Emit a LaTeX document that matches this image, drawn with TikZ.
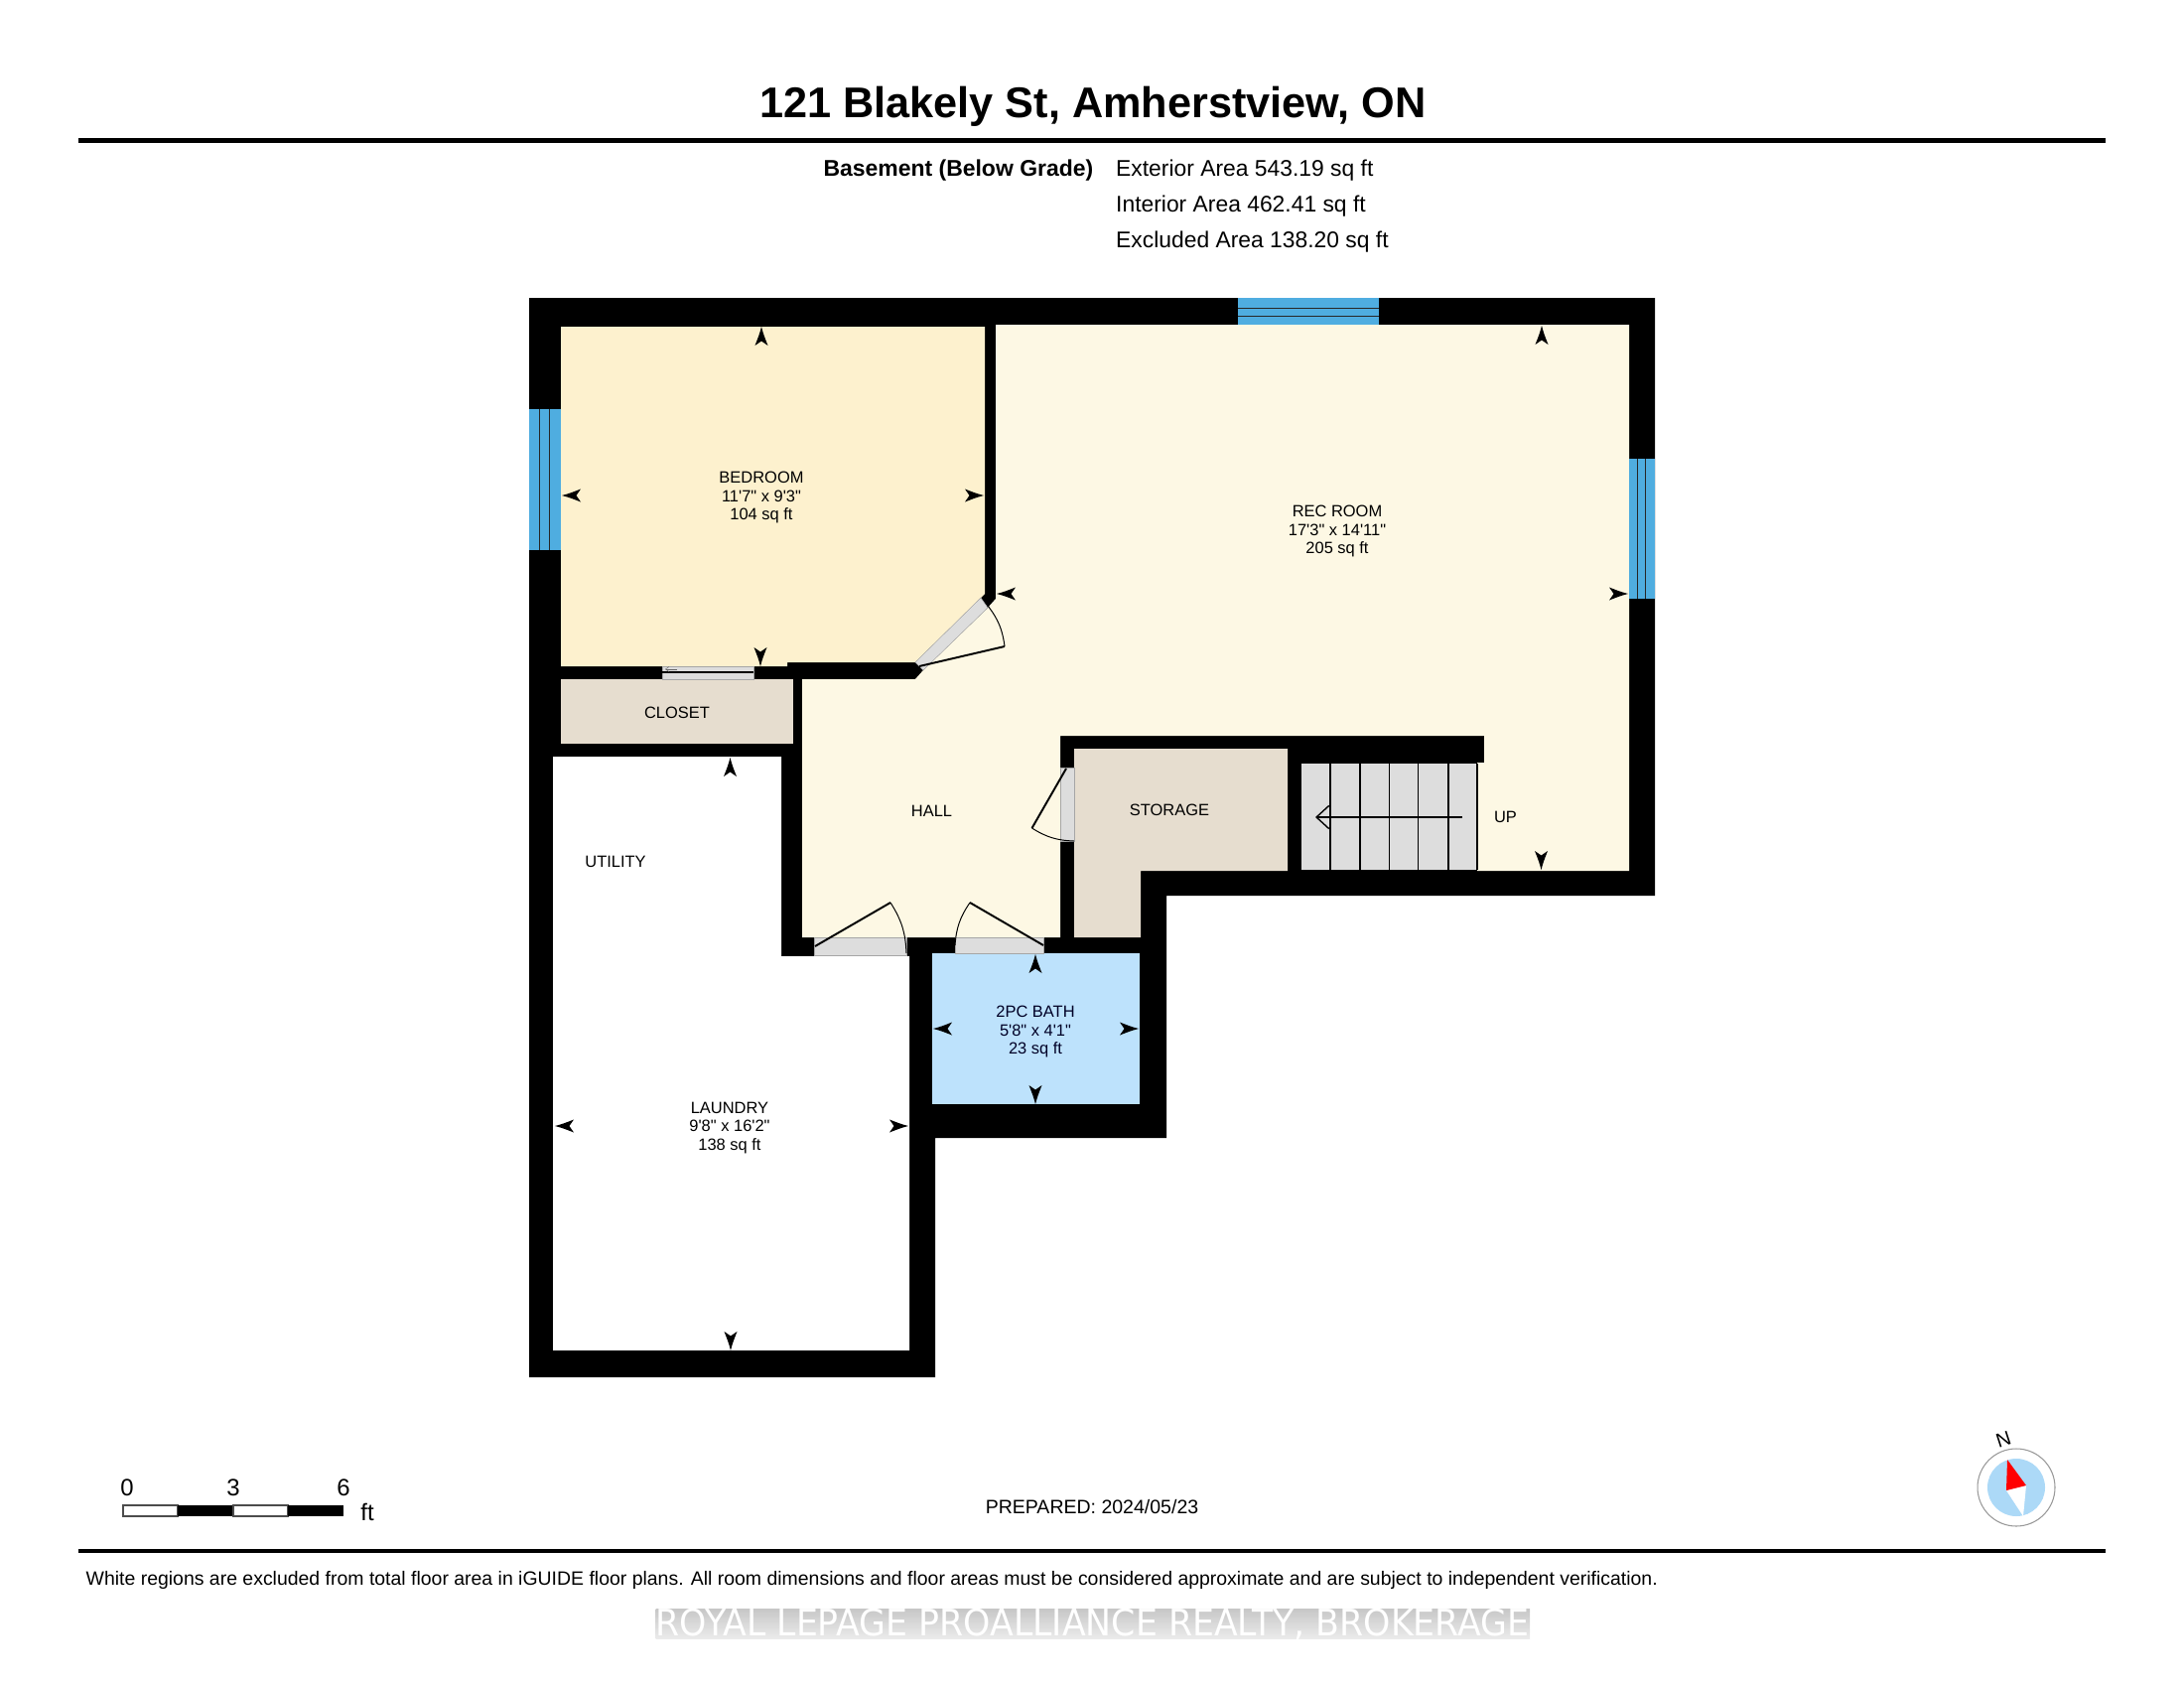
\documentclass[tikz,border=0pt]{standalone}
\usepackage{fontspec}
\setmainfont{Liberation Sans}[Ligatures=TeXOff]
\newfontfamily\markfont{DejaVu Sans}
\usetikzlibrary{arrows.meta,positioning}
\definecolor{wallblack}{HTML}{000000}
\definecolor{bedfill}{HTML}{FDF1CE}
\definecolor{recfill}{HTML}{FDF8E4}
\definecolor{storefill}{HTML}{E6DDCF}
\definecolor{bathfill}{HTML}{BDE2FC}
\definecolor{winfill}{HTML}{4FADE0}
\definecolor{slabfill}{HTML}{DDDDDD}
\definecolor{dialfill}{HTML}{ACD9F7}
\tikzset{
  room/.style={inner sep=0,align=center,font=\fontsize{4.68}{5.2}\selectfont},
  info/.style={inner sep=0,font=\fontsize{6.5}{8}\selectfont},
  slab/.style={fill=slabfill,draw=black!35,line width=0.12pt},
  leaf/.style={line width=0.55pt},
  swing/.style={line width=0.28pt},
  sash/.style={line width=0.25pt,black!85},
}
\newcommand{\Marker}[2]% tip, angle
{\fill[shift={(#1)},rotate=#2] (0,0) .. controls (-8,2.2) .. (-19,6.5) -- (-14.5,0) -- (-19,-6.5) .. controls (-8,-2.2) .. (0,0) -- cycle;
}
\newcommand{\Window}[2]% corner, corner
{\fill[winfill] (#1) rectangle (#2);
}
\begin{document}
\begin{tikzpicture}[x=0.01cm,y=-0.01cm]
  \useasboundingbox (0,0) rectangle (2200,1700);
  % header
  \node[inner sep=0,anchor=base,font=\bfseries\fontsize{12.3}{14}\selectfont] (title) at (1101,119) {121 Blakely St, Amherstview, ON};
  \draw[line width=1.15pt] (79,141.5) -- (2121,141.5);
  \node[info,anchor=base east,font=\bfseries\fontsize{6.53}{8}\selectfont] (level) at (1102,178) {Basement (Below Grade)};
  \node[info,anchor=base west] (exterior) at (1123.5,178) {Exterior Area 543.19 sq ft};
  \node[info,anchor=base west] (interior) at (1123.5,213) {Interior Area 462.41 sq ft};
  \node[info,anchor=base west] (excluded) at (1123.5,249) {Excluded Area 138.20 sq ft};
  % shell, then the rooms on top of it
  \fill[wallblack] (533,300) -- (1667,300) -- (1667,902) -- (1175,902) -- (1175,1146) -- (942,1146) -- (942,1387) -- (533,1387) -- cycle;
  \fill[white] (557,762) -- (787,762) -- (787,963) -- (916,963) -- (916,1360) -- (557,1360) -- cycle;
  \fill[bedfill] (565,329) -- (992,329) -- (992,598) -- (988,602) -- (922,667) -- (793,667) -- (793,671) -- (565,671) -- cycle;
  \fill[recfill] (1003,327) -- (1641,327) -- (1641,877) -- (1488,877) -- (1488,768) -- (1495,768) -- (1495,741) -- (1068,741) -- (1068,944) -- (808,944) -- (808,684) -- (922,684) -- (930,675) -- (995,612) -- (1003,603) -- cycle;
  \fill[storefill] (565,684) rectangle (799,749);
  \fill[storefill] (1082,754) -- (1297,754) -- (1297,877) -- (1149,877) -- (1149,944) -- (1082,944) -- cycle;
  \fill[bathfill] (939,960) rectangle (1148,1112);
  % windows
  \Window{533,412}{565,554}
  \draw[sash] (543,412) -- (543,554) (553,412) -- (553,554);
  \Window{1247,300}{1389,327}
  \draw[sash] (1247,310) -- (1389,310) (1247,318) -- (1389,318);
  \Window{1641,462}{1667,603}
  \draw[sash] (1649,462) -- (1649,603) (1657,462) -- (1657,603);
  % doors
  \draw[slab] (667,671) rectangle (759,684);
  \draw[line width=0.4pt] (667,677) -- (759,677);
  \draw[-{Straight Barb[length=1pt,width=1.4pt]},line width=0.12pt,black!60] (682,674) -- (670,674);
  \draw[slab] (988,602) -- (995,612) -- (930,675) -- (922,667) -- cycle;
  \draw[leaf] (926,671) -- (1012,651);
  \draw[swing] (1012,651) to[bend right=15] (995,610);
  \draw[slab] (1068,773) rectangle (1082,847);
  \draw[leaf] (1074,774) -- (1039.5,834);
  \draw[swing] (1039.5,834) to[bend right=15] (1082,847);
  \draw[slab] (820.5,944) rectangle (913,962);
  \draw[leaf] (821,953) -- (897,909);
  \draw[swing] (897,909) to[bend left=15] (913,960);
  \draw[slab] (962,944) rectangle (1051,960);
  \draw[leaf] (1051,952) -- (977,909);
  \draw[swing] (977,909) to[bend right=15] (962,952);
  % stairs
  \fill[slabfill] (1311,769) rectangle (1488,876);
  \foreach \tread in {1340,1370,1399.5,1428.5,1459,1488}
    \draw[line width=0.3pt] (\tread,769) -- (\tread,876);
  \coordinate (stairfoot) at (1473,823);
  \coordinate (stairhead) at (1325,823);
  \draw[-{Straight Barb[length=3.6pt,width=6.6pt]},line width=0.4pt] (stairfoot) -- (stairhead);
  % room texts
  \node[room] (bedroom) at (767,501) {BEDROOM\\11'7" x 9'3"\\104 sq ft};
  \node[room] (recroom) at (1347,535) {REC ROOM\\17'3" x 14'11"\\205 sq ft};
  \node[room] (closet) at (682,717.5) {CLOSET};
  \node[room] (hall) at (938.5,816.5) {HALL};
  \node[room] (storage) at (1178,815.5) {STORAGE};
  \node[room] (up) at (1516.5,823) {UP};
  \node[room] (utility) at (620,868) {UTILITY};
  \node[room] (laundry) at (735,1136) {LAUNDRY\\9'8" x 16'2"\\138 sq ft};
  \node[room,text=black!85!blue] (bath) at (1043,1039) {2PC BATH\\5'8" x 4'1"\\23 sq ft};
  % dimension markers
  \Marker{767,329}{90}
  \Marker{766,671}{-90}
  \Marker{566,499}{180}
  \Marker{991,499}{0}
  \Marker{1553,328}{90}
  \Marker{1552.5,876}{-90}
  \Marker{1004,598}{180}
  \Marker{1640,598}{0}
  \Marker{735.5,763}{90}
  \Marker{736,1360}{-90}
  \Marker{559,1134}{180}
  \Marker{915,1134}{0}
  \Marker{1043,961}{90}
  \Marker{1043,1112}{-90}
  \Marker{940,1036}{180}
  \Marker{1147,1036}{0}
  % scale bar
  \draw[fill=white,draw=black!70,line width=0.3pt] (124,1516) rectangle (179,1527);
  \fill (179,1516) rectangle (235,1527);
  \draw[fill=white,draw=black!70,line width=0.3pt] (235,1516) rectangle (290,1527);
  \fill (290,1516) rectangle (346,1527);
  \node[info,font=\fontsize{6.8}{8}\selectfont] (zero) at (128,1498.5) {0};
  \node[info,font=\fontsize{6.8}{8}\selectfont] (three) at (235,1498.5) {3};
  \node[info,font=\fontsize{6.8}{8}\selectfont] (six) at (346,1498.5) {6};
  \node[info,font=\fontsize{6.8}{8}\selectfont] (feet) at (370,1523) {ft};
  \node[inner sep=0,anchor=base,font=\fontsize{5.55}{7}\selectfont] (prepared) at (1100,1524) {PREPARED: 2024/05/23};
  % compass
  \draw[black!40,line width=0.3pt,fill=white] (2031,1498) circle (39);
  \fill[dialfill] (2031,1498) circle (29);
  \fill[white] (2021,1501) -- (2041,1496) -- (2038,1527) -- cycle;
  \fill[red] (2022,1470) -- (2041,1496) -- (2021,1501) -- cycle;
  \node[inner sep=0,rotate=18,font=\fontsize{5.7}{7}\selectfont] (north) at (2018,1450) {N};
  % footer
  \draw[line width=1.15pt] (79,1562) -- (2121,1562);
  \node[inner sep=0,anchor=base west,font=\fontsize{5.53}{7}\selectfont] (note) at (86,1596) {White regions are excluded from total floor area in iGUIDE floor plans. All room dimensions and floor areas must be considered approximate and are subject to independent verification.};
  \shade[top color=black!22,bottom color=black!8] (660.5,1620) rectangle (1541,1650);
  \node[inner sep=0,anchor=base,text=white,xscale=0.94,transform shape,font=\markfont\fontsize{10.5}{12}\selectfont] (brokerage) at (1100.5,1647) {ROYAL LEPAGE PROALLIANCE REALTY, BROKERAGE};
\end{tikzpicture}
\end{document}
